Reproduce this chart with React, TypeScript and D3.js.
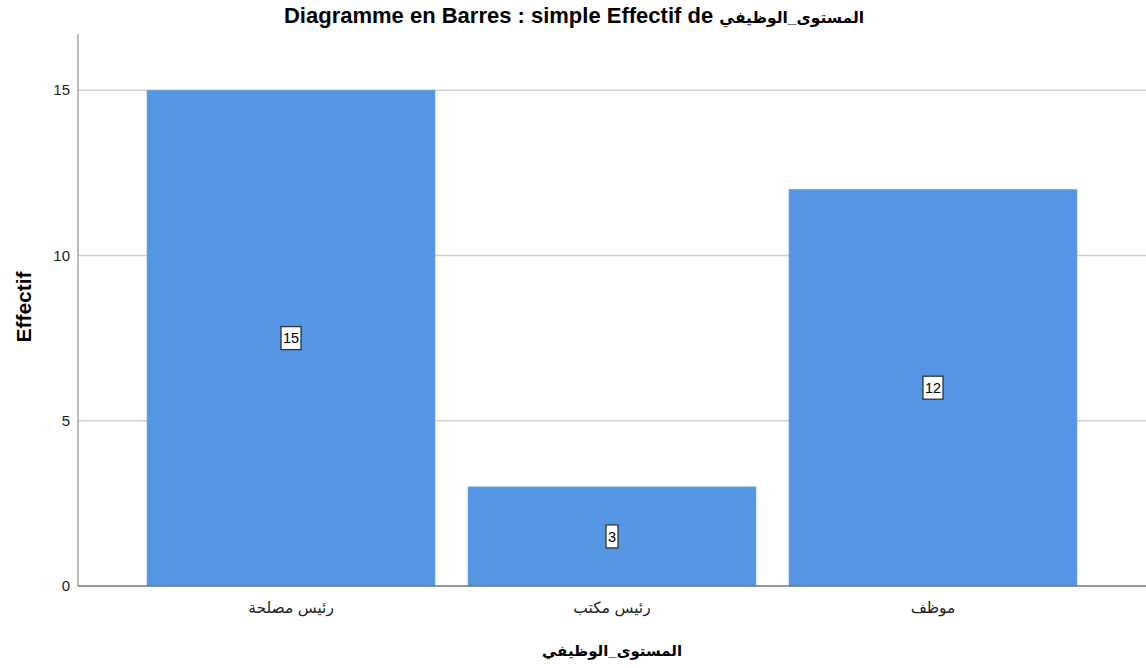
import React from "react";
import * as d3 from "d3";

const categories: string[] = ["رئيس مصلحة", "رئيس مكتب", "موظف"];
const counts: number[] = [15, 3, 12];
const yTicks: number[] = [0, 5, 10, 15];
const titleLatin = "Diagramme en Barres : simple Effectif de ";
const titleArabic = "المستوى_الوظيفي";
const xTitle = "المستوى_الوظيفي";
const yTitle = "Effectif";

const W = 1146;
const H = 668;
const left = 78;
const right = 1146;
const top = 34;
const bottom = 586;

export default function App() {
  const x = d3
    .scaleBand<string>()
    .domain(categories)
    .range([left, right])
    .paddingInner(0.1028)
    .paddingOuter(0.215);
  const y = d3.scaleLinear().domain([0, 16.7]).range([bottom, top]);
  const font = "'Liberation Sans', Arial, 'DejaVu Sans', sans-serif";

  return (
    <div style={{ position: "absolute", left: 0, top: 0 }}>
      <svg width={W} height={H} style={{ display: "block", background: "#fff" }} fontFamily={font}>
        <text x={574} y={23} textAnchor="middle" fontWeight="bold" fill="#000">
          <tspan fontSize={22}>{titleLatin}</tspan>
          <tspan fontSize={15.5}>{titleArabic}</tspan>
        </text>
        {yTicks.filter((t) => t > 0).map((t) => (
          <line key={"g" + t} x1={left} x2={right} y1={y(t)} y2={y(t)} stroke="#d0d0d0" strokeWidth={1.5} />
        ))}
        {categories.map((c, i) => (
          <rect
            key={c}
            x={x(c)!}
            y={y(counts[i])}
            width={x.bandwidth()}
            height={y(0) - y(counts[i])}
            fill="#5596e4"
            stroke="#6ea5e8"
            strokeWidth={0.6}
          />
        ))}
        <line x1={left} x2={left} y1={top} y2={bottom} stroke="#999" strokeWidth={1.3} />
        <line x1={left} x2={right} y1={bottom} y2={bottom} stroke="#777" strokeWidth={1.3} />
        {yTicks.map((t) => (
          <text key={"t" + t} x={left - 8} y={y(t)} dy="0.35em" textAnchor="end" fontSize={15} fill="#222">
            {t}
          </text>
        ))}
        {categories.map((c) => (
          <text key={"l" + c} x={x(c)! + x.bandwidth() / 2} y={613} textAnchor="middle" fontSize={15.5} fill="#222">
            {c}
          </text>
        ))}
        {categories.map((c, i) => {
          const cx = x(c)! + x.bandwidth() / 2;
          const cy = y(counts[i] / 2);
          const label = String(counts[i]);
          const bw = label.length * 8 + 4;
          return (
            <g key={"v" + c}>
              <rect x={cx - bw / 2} y={cy - 11.5} width={bw} height={23} fill="#fff" stroke="#333" strokeWidth={1.3} />
              <text x={cx} y={cy} dy="0.36em" textAnchor="middle" fontSize={14.5} fill="#000">
                {label}
              </text>
            </g>
          );
        })}
        <text x={612} y={656} textAnchor="middle" fontSize={15} fontWeight="bold" fill="#000">
          {xTitle}
        </text>
        <text
          transform={`translate(31, ${307}) rotate(-90)`}
          textAnchor="middle"
          fontSize={21}
          fontWeight="bold"
          fill="#000"
        >
          {yTitle}
        </text>
      </svg>
    </div>
  );
}
